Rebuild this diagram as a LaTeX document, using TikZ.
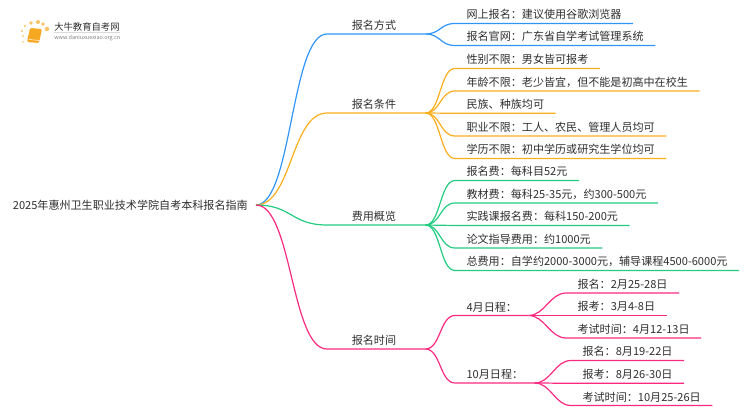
\documentclass[tikz,border=0pt]{standalone}
\usepackage{fontspec}
\setmainfont{Noto Sans CJK SC}
\usetikzlibrary{positioning}
\definecolor{cblue}{HTML}{2E95FA}
\definecolor{corange}{HTML}{FBAE1C}
\definecolor{cgreen}{HTML}{22CC80}
\definecolor{cpink}{HTML}{FA2A80}
\definecolor{ctext}{HTML}{2E2E2E}
\definecolor{clogo}{HTML}{F7A823}
\begin{document}
\begin{tikzpicture}[x=0.75pt,y=-0.75pt]
        \tikzstyle{every node}=[text=ctext,font=\fontsize{8.3pt}{10pt}\selectfont]
        \tikzstyle{branch}=[anchor=south west,minimum width=73.5pt,inner xsep=0pt,inner ysep=2.5pt]
        \tikzstyle{leaf}=[anchor=south west,inner xsep=8.5pt,inner ysep=2.5pt]
        \tikzstyle{link}=[line width=0.9pt]
        \useasboundingbox (0,0) rectangle (750,410);
        % logo
        \foreach \x/\y/\r in {25/26/1.2,31/23/1.8,38/22/2,43/24/1.8,47/29/2.2,22/31/1.2,23/36/1,23/42/0.8}
            \fill[clogo!70] (\x,\y) circle (\r);
        \fill[clogo,rounded corners=1pt] (30,28) -- (42,29) -- (39,43) -- (27,42) -- cycle;
        \draw[white,line width=0.4pt] (29,39.5) -- (39.5,40.5);
        \node[anchor=west,inner sep=0pt,font=\fontsize{7pt}{8pt}\selectfont] (logotitle) at (54,27) {大牛教育自考网};
        \node[anchor=west,inner sep=0pt,text=gray,font=\fontsize{4.1pt}{5pt}\selectfont] (logourl) at (54,38.5) {www.daniuxuexiao.org.cn};
        \draw[black!15,line width=0.4pt] (logotitle.south west) ++(0,1) -- ++(66,0);
        % root
        \node[anchor=east,inner xsep=6pt] (root) at (256,205) {2025年惠州卫生职业技术学院自考本科报名指南};
        % branches
        \foreach \n/\y/\c/\t in {a/34/cblue/报名方式,b/113/corange/报名条件,c/225/cgreen/费用概览,d/349/cpink/报名时间}{
            \node[branch] (\n) at (327,\y) {\hspace{-3.5pt}\t};
            \draw[link,\c] (root.east) .. controls +(36,0) and +(-36,0) .. (\n.south west) -- (\n.south east);
        }
        % leaves
        \foreach \p/\n/\y/\c/\t in {a/a1/23.5/cblue/网上报名：建议使用谷歌浏览器,a/a2/45.5/cblue/报名官网：广东省自学考试管理系统,
            b/b1/68.5/corange/性别不限：男女皆可报考,b/b2/91/corange/年龄不限：老少皆宜，但不能是初高中在校生,b/b3/113.3/corange/民族、种族均可,b/b4/136/corange/职业不限：工人、农民、管理人员均可,b/b5/158.5/corange/学历不限：初中学历或研究生学位均可,
            c/c1/180.5/cgreen/报名费：每科目52元,c/c2/203/cgreen/教材费：每科25-35元，约300-500元,c/c3/225.5/cgreen/实践课报名费：每科150-200元,c/c4/248/cgreen/论文指导费用：约1000元,c/c5/270.5/cgreen/总费用：自学约2000-3000元，辅导课程4500-6000元,
            d/d1/315.5/cpink/4月日程：,d/d2/383/cpink/10月日程：}{
            \node[leaf] (\n) at (455,\y) {\t};
            \draw[link,\c] (\p.south east) .. controls +(15,0) and +(-15,0) .. (\n.south west) -- (\n.south east);
        }
        % dates
        \foreach \p/\n/\x/\y/\t in {d1/e1/566/293/报名：2月25-28日,d1/e2/566/315.5/报考：3月4-8日,d1/e3/566/338/考试时间：4月12-13日,
            d2/f1/571/360.5/报名：8月19-22日,d2/f2/571/383.3/报考：8月26-30日,d2/f3/571/405.5/考试时间：10月25-26日}{
            \node[leaf] (\n) at (\x,\y) {\t};
            \draw[link,cpink] (\p.south east) .. controls +(16,0) and +(-16,0) .. (\n.south west) -- (\n.south east);
        }
\end{tikzpicture}
\end{document}
